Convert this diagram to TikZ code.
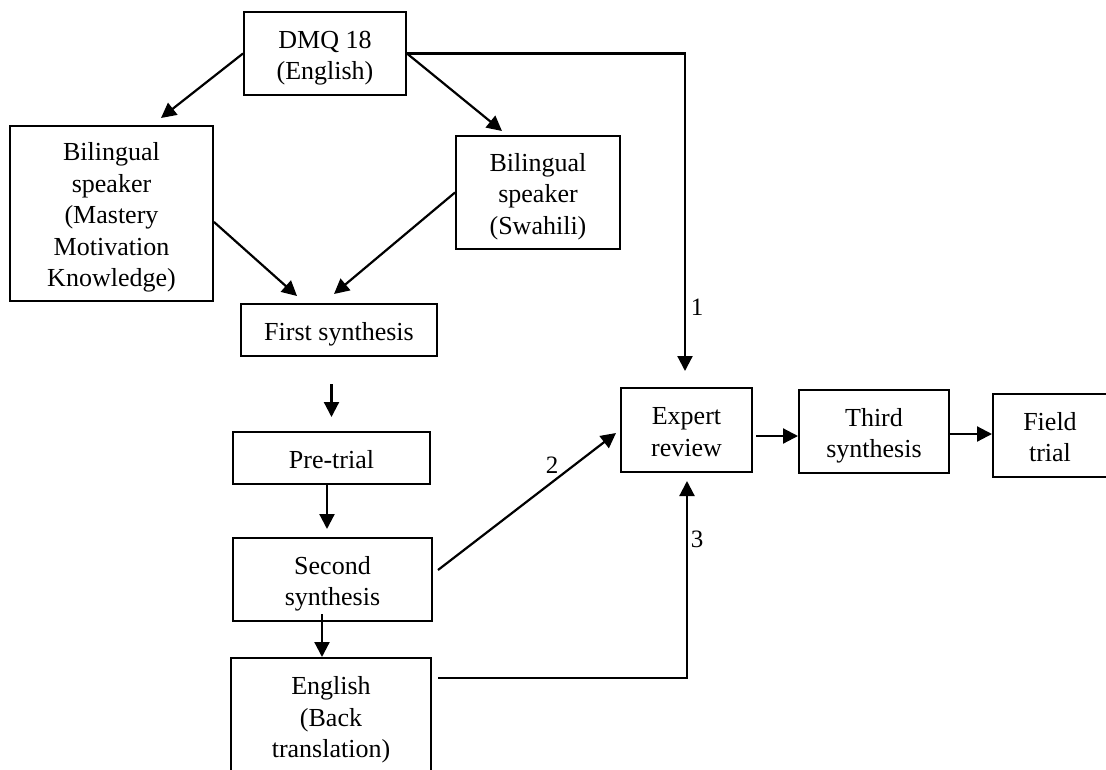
\documentclass[tikz,border=0pt]{standalone}
\usepackage{fontspec}
\setmainfont{Liberation Serif}
\usetikzlibrary{arrows.meta,calc}
\newcommand\bxtext[1]{\raisebox{-4pt}[\height][\depth]{\begin{tabular}{@{}c@{}}#1\end{tabular}}}
\begin{document}
\begin{tikzpicture}[x=1pt,y=-1pt,
  box/.style={draw, line width=2pt, align=center, inner sep=0pt, font=\fontsize{26}{31.5}\selectfont},
  arr/.style={line width=2.2pt, -{Triangle[length=15pt,width=15pt]}},
  lbl/.style={font=\fontsize{25}{30}\selectfont, inner sep=0pt}]
\clip (0,0) rectangle (1106,769);
\fill[white] (0,0) rectangle (1106,769);

\node[box, minimum width=162pt, minimum height=83pt] (dmq) at (325,53.5) {\bxtext{DMQ 18\\(English)}};
\node[box, minimum width=203pt, minimum height=175pt] (bil1) at (111.5,213.5) {\bxtext{Bilingual\\speaker\\(Mastery\\Motivation\\Knowledge)}};
\node[box, minimum width=164pt, minimum height=113pt] (bil2) at (538,192.5) {\bxtext{Bilingual\\speaker\\(Swahili)}};
\node[box, minimum width=196pt, minimum height=52pt] (fs) at (339,330) {\bxtext{First synthesis}};
\node[box, minimum width=197pt, minimum height=52pt] (pre) at (331.5,458) {\bxtext{Pre-trial}};
\node[box, minimum width=199pt, minimum height=83pt] (sec) at (332.5,579.5) {\bxtext{Second\\synthesis}};
\node[box, minimum width=200pt, minimum height=116pt] (eng) at (331,716) {\bxtext{English\\(Back\\translation)}};
\node[box, minimum width=131pt, minimum height=84pt] (exp) at (686.5,430) {\bxtext{Expert\\review}};
\node[box, minimum width=150pt, minimum height=83pt] (third) at (874,431.5) {\bxtext{Third\\synthesis}};
\node[box, minimum width=114pt, minimum height=83pt] (field) at (1050,435.5) {\bxtext{Field\\trial}};

\draw[arr] (dmq.west) -- ($(bil1.north)+(49.5,-7)$);
\draw[arr] (dmq.east) -- ($(bil2.north)+(-36,-4)$);
\draw[arr] (dmq.east) -| ($(exp.north)+(-1.5,-16)$);
\draw[arr] ($(bil1.east)+(0,8.5)$) -- ($(fs.north)+(-42,-7)$);
\draw[arr] (bil2.west) -- ($(fs.north)+(-5,-9)$);
\draw[arr] ($(pre.north |- fs.south)+(0,27)$) -- ($(pre.north)+(0,-14)$);
\draw[arr] ($(pre.south)+(-4.5,0)$) -- ($(sec.north)+(-5.5,-8)$);
\draw[arr] ($(sec.south)+(-10.5,-8)$) -- ($(eng.north)+(-9,0)$);
\draw[arr] ($(sec.east)+(5,-9.5)$) -- ($(exp.west)+(-4,3)$);
\draw[arr] ($(eng.east)+(6,-38)$) -| ($(exp.south)+(0.5,8)$);
\draw[arr] ($(exp.east)+(3,6)$) -- ($(third.west)+(0,4.5)$);
\draw[arr] ($(third.east)+(0,2.5)$) -- ($(field.west)+(0,-1.5)$);

\node[lbl] (l1) at (697,307) {1};
\node[lbl] (l2) at (552,465) {2};
\node[lbl] (l3) at (697,539) {3};
\end{tikzpicture}
\end{document}
